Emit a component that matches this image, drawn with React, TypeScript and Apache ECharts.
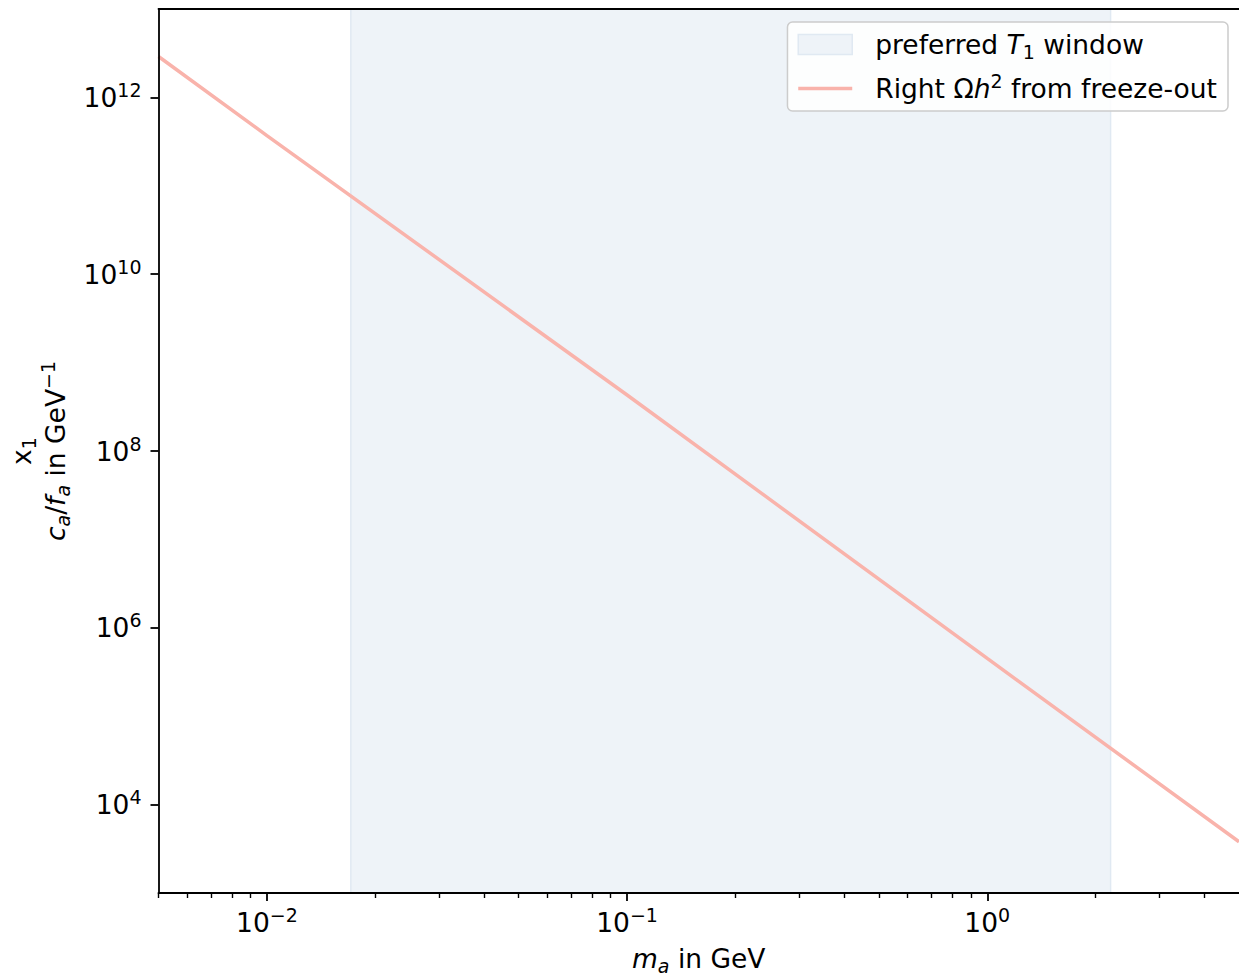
import React, { useEffect, useRef } from 'react';
import * as echarts from 'echarts';

// ---- data ----
const massGeV = [0.005, 0.01, 0.1, 1, 5];
const couplingInvGeV = [2.9e12, 3.7e11, 4.3e8, 4.5e5, 3.8e3];
const windowRange = [0.0171, 2.2];
const xLimits = [0.005, 5];
const yLimits = [1e3, 1e13];
const xMajorTicks = [0.01, 0.1, 1];
const xMinorTicks = [
  0.005, 0.006, 0.007, 0.008, 0.009,
  0.02, 0.03, 0.04, 0.05, 0.06, 0.07, 0.08, 0.09,
  0.2, 0.3, 0.4, 0.5, 0.6, 0.7, 0.8, 0.9,
  2, 3, 4,
];
const yMajorTicks = [1e4, 1e6, 1e8, 1e10, 1e12];

const WINDOW_NAME = 'preferred T1 window';
const LINE_NAME = 'Right Ωh2 from freeze-out';

const FONT = 'DejaVu Sans';
const FS = 26.5;
const SFS = 19;
const LINE_COLOR = '#f9b3ab';
const WINDOW_FILL = '#eef3f8';
const WINDOW_EDGE = '#e0e9f2';

const rich: any = {
  b: { fontSize: FS, fontFamily: FONT, color: '#000', lineHeight: 34 },
  i: { fontSize: FS, fontFamily: FONT, color: '#000', fontStyle: 'italic', lineHeight: 34 },
  sup: { fontSize: SFS, fontFamily: FONT, color: '#000', lineHeight: 19, verticalAlign: 'top' },
  sub: { fontSize: SFS, fontFamily: FONT, color: '#000', lineHeight: 24, verticalAlign: 'bottom' },
  subi: { fontSize: SFS, fontFamily: FONT, color: '#000', fontStyle: 'italic', lineHeight: 24, verticalAlign: 'bottom' },
};

function powLabel(v: number) {
  const e = Math.round(Math.log10(v));
  const s = e < 0 ? '\u2212' + Math.abs(e) : String(e);
  return `{b|10}{sup|${s}}`;
}

function legendLabel(name: string) {
  if (name === WINDOW_NAME) return '{b|preferred }{i|T}{sub|1}{b| window}';
  return '{b|Right Ω}{i|h}{sup|2}{b| from freeze-out}';
}

export default function App() {
  const ref = useRef<HTMLDivElement>(null);
  useEffect(() => {
    const chart = echarts.init(ref.current!, null, { renderer: 'svg' });
    const lineData = massGeV.map((m, i) => [m, couplingInvGeV[i]]);
    const option: any = {
      animation: false,
      backgroundColor: '#ffffff',
      textStyle: { fontFamily: FONT },
      grid: {
        left: 158,
        top: 9,
        right: -4,
        bottom: 83,
        show: false,
      },
      legend: {
        orient: 'vertical',
        right: 11,
        top: 22,
        itemWidth: 54,
        itemHeight: 20,
        itemGap: 10,
        padding: [9, 11, 9, 10],
        backgroundColor: 'rgba(255,255,255,0.85)',
        borderColor: '#cccccc',
        borderWidth: 1.5,
        borderRadius: 5,
        align: 'left',
        selectedMode: false,
        formatter: legendLabel,
        textStyle: { rich, padding: [0, 0, 0, 18] },
        data: [
          {
            name: WINDOW_NAME,
            icon: 'rect',
            itemStyle: { color: WINDOW_FILL, borderColor: WINDOW_EDGE, borderWidth: 1.5 },
          },
          {
            name: LINE_NAME,
            icon: 'path://M0,0 L54,0 L54,3.5 L0,3.5 Z',
            itemStyle: { color: LINE_COLOR, borderWidth: 0 },
          },
        ],
      },
      xAxis: [
        {
          type: 'log',
          logBase: 10,
          min: xLimits[0],
          max: xLimits[1],
          position: 'bottom',
          z: 10,
          axisLine: { show: true, lineStyle: { color: '#000', width: 1.8 } },
          axisTick: { show: true, length: 8, lineStyle: { color: '#000', width: 1.8 }, customValues: xMajorTicks },
          axisLabel: { show: true, margin: 12, customValues: xMajorTicks, formatter: powLabel, rich },
          splitLine: { show: false },
          minorTick: { show: false },
          name: '{i|m}{subi|a}{b| in GeV}',
          nameLocation: 'middle',
          nameGap: 48,
          nameTextStyle: { rich },
        },
        {
          type: 'log',
          logBase: 10,
          min: xLimits[0],
          max: xLimits[1],
          position: 'bottom',
          z: 10,
          axisLine: { show: false },
          axisTick: { show: true, length: 5, lineStyle: { color: '#000', width: 1.4 }, customValues: xMinorTicks },
          axisLabel: { show: false },
          splitLine: { show: false },
        },
        {
          type: 'log',
          logBase: 10,
          min: xLimits[0],
          max: xLimits[1],
          position: 'top',
          z: 10,
          axisLine: { show: true, lineStyle: { color: '#000', width: 1.8 } },
          axisTick: { show: false },
          axisLabel: { show: false },
          splitLine: { show: false },
        },
      ],
      yAxis: {
        type: 'log',
        logBase: 10,
        min: yLimits[0],
        max: yLimits[1],
        z: 10,
        axisLine: { show: true, lineStyle: { color: '#000', width: 1.8 } },
        axisTick: { show: true, length: 8, lineStyle: { color: '#000', width: 1.8 }, customValues: yMajorTicks },
        axisLabel: { show: true, margin: 17, customValues: yMajorTicks, formatter: powLabel, rich },
        splitLine: { show: false },
        minorTick: { show: false },
        name: '{b|x}{sub|1}\n{i|c}{subi|a}{b|/}{i|f}{subi|a}{b| in GeV}{sup|\u22121}',
        nameLocation: 'middle',
        nameRotate: 90,
        nameGap: 86,
        nameTextStyle: { rich, align: 'center' },
      },
      series: [
        {
          name: WINDOW_NAME,
          type: 'custom',
          xAxisIndex: 0,
          yAxisIndex: 0,
          z: 1,
          silent: true,
          itemStyle: { color: WINDOW_FILL },
          data: [[windowRange[0], windowRange[1]]],
          renderItem: (params: any, api: any) => {
            const p0 = api.coord([api.value(0), yLimits[1]]);
            const p1 = api.coord([api.value(1), yLimits[0]]);
            return {
              type: 'rect',
              shape: { x: p0[0], y: p0[1], width: p1[0] - p0[0], height: p1[1] - p0[1] },
              style: { fill: WINDOW_FILL, stroke: WINDOW_EDGE, lineWidth: 1.5 },
            };
          },
        },
        {
          name: LINE_NAME,
          type: 'line',
          xAxisIndex: 0,
          yAxisIndex: 0,
          z: 3,
          symbol: 'none',
          showSymbol: false,
          clip: true,
          lineStyle: { color: LINE_COLOR, width: 3.5 },
          itemStyle: { color: LINE_COLOR },
          data: lineData,
        },
      ],
    };
    chart.setOption(option);
    return () => chart.dispose();
  }, []);
  return (
    <div
      ref={ref}
      style={{ position: 'fixed', left: 0, top: 0, width: 1239, height: 980, background: '#fff' }}
    />
  );
}
